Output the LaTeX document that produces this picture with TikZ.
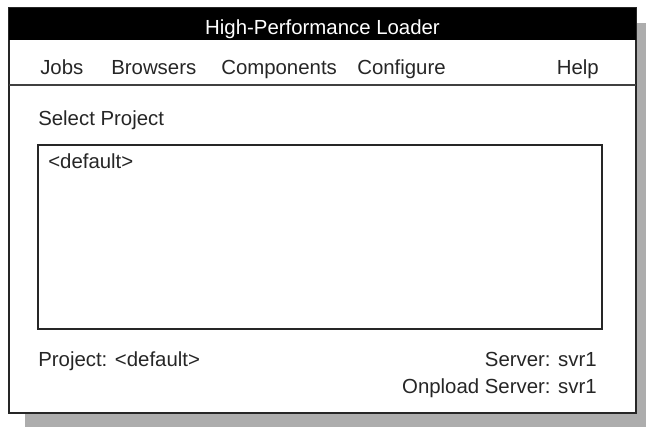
\documentclass[tikz,border=0pt]{standalone}
\usepackage{fontspec}
\setmainfont{Liberation Sans}
\usetikzlibrary{positioning}

\begin{document}
\begin{tikzpicture}[x=0.025cm, y=-0.025cm,
    wintext/.style={inner sep=0pt, anchor=base west, text=black!85, font=\fontsize{14.5}{17}\selectfont},
    wintextr/.style={wintext, anchor=base east}]
    \useasboundingbox (0,0) rectangle (646,427);

    % Drop shadow behind the window
    \fill[black!32] (25,23) rectangle (646,427);

    % Window frame with the black title bar
    \draw[fill=white, line width=1pt, draw=black!85] (9,8) rectangle (636,413);
    \fill[black] (9,8) rectangle (636,40);
    \node[wintext, anchor=base, text=white] (title) at (322.5,35) {High-Performance Loader};

    % Menu bar and its separator line
    \node[wintext] (jobs) at (40,75) {Jobs};
    \node[wintext] (browsers) at (111,75) {Browsers};
    \node[wintext] (components) at (221,75) {Components};
    \node[wintext] (configure) at (357,75) {Configure};
    \node[wintextr] (help) at (599,75) {Help};
    \draw[line width=1.2pt, black!75] (9,85) -- (636,85);

    % Project list
    \node[wintext] (select) at (38,126) {Select Project};
    \draw[line width=1pt, black!85] (38,145) rectangle (602,329);
    \node[wintext] (deflt) at (48,169) {<default>};

    % Status lines at the bottom
    \node[wintext] (project) at (38,366) {Project: <default>};
    \node[wintextr] (server) at (597,366) {Server: svr1};
    \node[wintextr] (onload) at (597,393) {Onpload Server: svr1};
\end{tikzpicture}
\end{document}
